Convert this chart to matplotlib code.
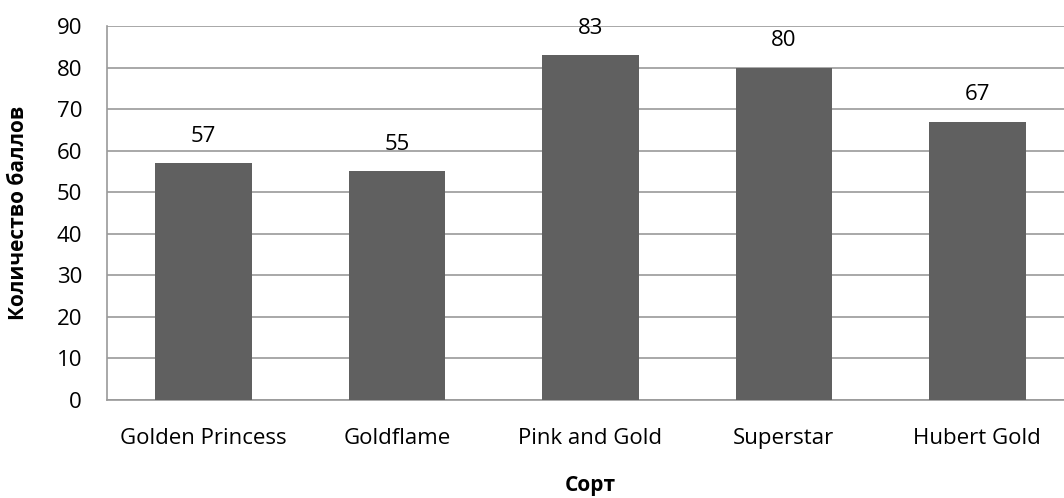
import matplotlib
matplotlib.use("Agg")
import matplotlib.pyplot as plt

varieties = ["Golden Princess", "Goldflame", "Pink and Gold", "Superstar", "Hubert Gold"]
scores = [57, 55, 83, 80, 67]
y_ticks = [0, 10, 20, 30, 40, 50, 60, 70, 80, 90]

plt.rcParams["font.family"] = ["Open Sans", "DejaVu Sans"]

fig = plt.figure(figsize=(10.64, 4.98), dpi=100)
ax = fig.add_axes([107 / 1064, 1 - 400 / 498, 967 / 1064, 374 / 498])

x = range(len(varieties))
ax.bar(x, scores, width=0.5, color="#606060", zorder=3)
for xi, v in zip(x, scores):
    ax.text(xi, v + 6.5, str(v), ha="center", va="center", fontsize=16, color="black")

ax.set_xlim(-0.5, len(varieties) - 0.5)
ax.set_ylim(0, 90)
ax.set_yticks(y_ticks)
ax.set_xticks(list(x))
ax.set_xticklabels(varieties, fontsize=16)
ax.tick_params(axis="y", labelsize=16, length=0, pad=18)
ax.tick_params(axis="x", length=0, pad=20)
ax.grid(axis="y", color="#9a9a9a", linewidth=1.2, zorder=0)
for s in ["top", "right"]:
    ax.spines[s].set_visible(False)
for s in ["left", "bottom"]:
    ax.spines[s].set_color("#9a9a9a")
    ax.spines[s].set_linewidth(1.2)

# Axis titles placed in figure coordinates
fig.text(19 / 1064, 1 - 213 / 498, "Количество баллов", rotation=90,
         ha="center", va="center", fontsize=15, fontweight="bold")
fig.text(590 / 1064, 1 - 485 / 498, "Сорт",
         ha="center", va="center", fontsize=15, fontweight="bold")

fig.savefig("out.png", dpi=100)
